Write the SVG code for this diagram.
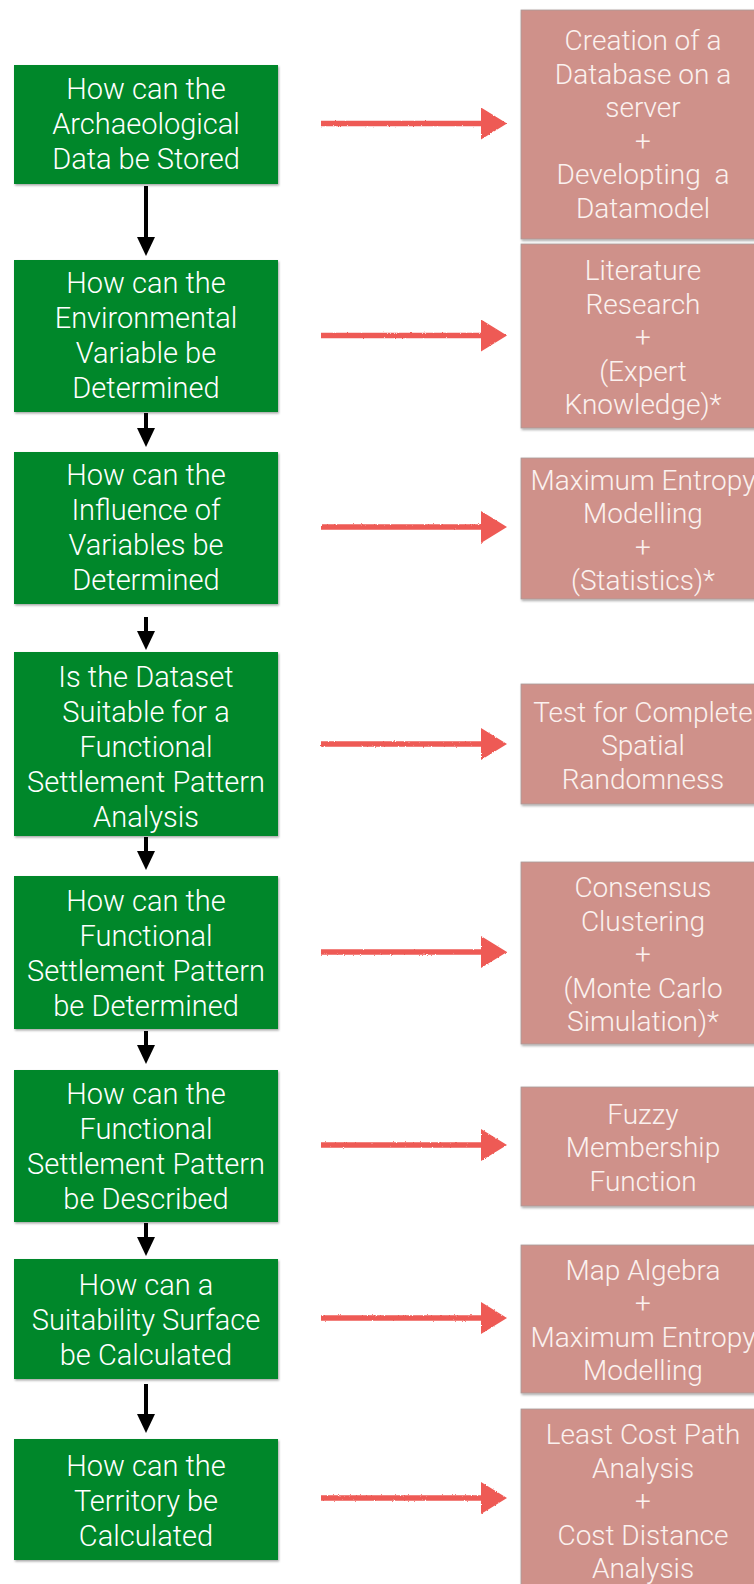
<svg xmlns="http://www.w3.org/2000/svg" width="754" height="1584" viewBox="0 0 754 1584">
  <style>
    .q rect { fill: #05872C; filter: url(#shadow); }
    .m rect { fill: #CF918A; stroke: #A89C99; stroke-width: 0.8; filter: url(#shadow); }
    .q text { font-family: Roboto, "Liberation Sans", sans-serif; font-weight: 300; font-size: 29px; fill: #FFFFFF; text-anchor: middle; }
    .m text { font-family: Roboto, "Liberation Sans", sans-serif; font-weight: 300; font-size: 28px; fill: #FBF1EF; text-anchor: middle; }
    .flow line { stroke: #000000; stroke-width: 4; marker-end: url(#head-black); }
    .method { filter: url(#chalk); }
    .method line { stroke: #EE5A55; stroke-width: 5.5; marker-end: url(#head-red); }
  </style>
  <defs>
    <filter id="shadow" x="-5%" y="-5%" width="115%" height="115%">
      <feDropShadow dx="1" dy="1.5" stdDeviation="1.2" flood-color="#000000" flood-opacity="0.35"/>
    </filter>
    <!-- rough, chalk-like edge for the red arrows -->
    <filter id="chalk" filterUnits="userSpaceOnUse" x="300" y="0" width="230" height="1584">
      <feTurbulence type="fractalNoise" baseFrequency="0.9" numOctaves="2" seed="3" result="noise"/>
      <feDisplacementMap in="SourceGraphic" in2="noise" scale="2.2" xChannelSelector="R" yChannelSelector="G"/>
    </filter>
    <marker id="head-black" markerUnits="userSpaceOnUse" markerWidth="19" markerHeight="18" refX="1" refY="9" orient="auto">
      <path d="M0,0 L19,9 L0,18 Z" fill="#000000"/>
    </marker>
    <marker id="head-red" markerUnits="userSpaceOnUse" markerWidth="26" markerHeight="32" refX="1" refY="16" orient="auto">
      <path d="M0,0 L26,16 L0,32 Z" fill="#EE5A55"/>
    </marker>
  </defs>

  <rect width="754" height="1584" fill="#FFFFFF"/>

  <!-- question boxes (left column) -->
  <g id="q1" class="q">
    <rect x="14" y="65" width="264" height="119"/>
    <text><tspan x="146" y="99">How can the</tspan><tspan x="146" y="134">Archaeological</tspan><tspan x="146" y="169">Data be Stored</tspan></text>
  </g>
  <g id="q2" class="q">
    <rect x="14" y="260" width="264" height="152"/>
    <text><tspan x="146" y="292.5">How can the</tspan><tspan x="146" y="327.5">Environmental</tspan><tspan x="146" y="362.5">Variable be</tspan><tspan x="146" y="397.5">Determined</tspan></text>
  </g>
  <g id="q3" class="q">
    <rect x="14" y="452" width="264" height="152"/>
    <text><tspan x="146" y="484.5">How can the</tspan><tspan x="146" y="519.5">Influence of</tspan><tspan x="146" y="554.5">Variables be</tspan><tspan x="146" y="589.5">Determined</tspan></text>
  </g>
  <g id="q4" class="q">
    <rect x="14" y="652" width="264" height="184"/>
    <text><tspan x="146" y="687">Is the Dataset</tspan><tspan x="146" y="722">Suitable for a</tspan><tspan x="146" y="757">Functional</tspan><tspan x="146" y="792">Settlement Pattern</tspan><tspan x="146" y="827">Analysis</tspan></text>
  </g>
  <g id="q5" class="q">
    <rect x="14" y="876" width="264" height="153"/>
    <text><tspan x="146" y="911">How can the</tspan><tspan x="146" y="946">Functional</tspan><tspan x="146" y="981">Settlement Pattern</tspan><tspan x="146" y="1016">be Determined</tspan></text>
  </g>
  <g id="q6" class="q">
    <rect x="14" y="1070" width="264" height="152"/>
    <text><tspan x="146" y="1104">How can the</tspan><tspan x="146" y="1139">Functional</tspan><tspan x="146" y="1174">Settlement Pattern</tspan><tspan x="146" y="1209">be Described</tspan></text>
  </g>
  <g id="q7" class="q">
    <rect x="14" y="1259" width="264" height="120"/>
    <text><tspan x="146" y="1295">How can a</tspan><tspan x="146" y="1330">Suitability Surface</tspan><tspan x="146" y="1365">be Calculated</tspan></text>
  </g>
  <g id="q8" class="q">
    <rect x="14" y="1439" width="264" height="121"/>
    <text><tspan x="146" y="1475.5">How can the</tspan><tspan x="146" y="1510.5">Territory be</tspan><tspan x="146" y="1545.5">Calculated</tspan></text>
  </g>

  <!-- method boxes (right column, running past the right edge) -->
  <g id="m1" class="m">
    <rect x="521" y="10" width="250" height="229"/>
    <text><tspan x="643" y="50">Creation of a</tspan><tspan x="643" y="83.5">Database on a</tspan><tspan x="643" y="117">server</tspan><tspan x="643" y="150.5">+</tspan><tspan x="643" y="184">Developting&#160; a</tspan><tspan x="643" y="217.5">Datamodel</tspan></text>
  </g>
  <g id="m2" class="m">
    <rect x="521" y="244" width="250" height="184"/>
    <text><tspan x="643" y="280">Literature</tspan><tspan x="643" y="313.5">Research</tspan><tspan x="643" y="347">+</tspan><tspan x="643" y="380.5">(Expert</tspan><tspan x="643" y="414">Knowledge)*</tspan></text>
  </g>
  <g id="m3" class="m">
    <rect x="521" y="458" width="250" height="141"/>
    <text><tspan x="643" y="489.75">Maximum Entropy</tspan><tspan x="643" y="523.25">Modelling</tspan><tspan x="643" y="556.75">+</tspan><tspan x="643" y="590.25">(Statistics)*</tspan></text>
  </g>
  <g id="m4" class="m">
    <rect x="521" y="684" width="250" height="120"/>
    <text><tspan x="643" y="721.5">Test for Complete</tspan><tspan x="643" y="755">Spatial</tspan><tspan x="643" y="788.5">Randomness</tspan></text>
  </g>
  <g id="m5" class="m">
    <rect x="521" y="862" width="250" height="182"/>
    <text><tspan x="643" y="897">Consensus</tspan><tspan x="643" y="930.5">Clustering</tspan><tspan x="643" y="964">+</tspan><tspan x="643" y="997.5">(Monte Carlo</tspan><tspan x="643" y="1031">Simulation)*</tspan></text>
  </g>
  <g id="m6" class="m">
    <rect x="521" y="1087" width="250" height="119"/>
    <text><tspan x="643" y="1123.5">Fuzzy</tspan><tspan x="643" y="1157">Membership</tspan><tspan x="643" y="1190.5">Function</tspan></text>
  </g>
  <g id="m7" class="m">
    <rect x="521" y="1245" width="250" height="148"/>
    <text><tspan x="643" y="1279.75">Map Algebra</tspan><tspan x="643" y="1313.25">+</tspan><tspan x="643" y="1346.75">Maximum Entropy</tspan><tspan x="643" y="1380.25">Modelling</tspan></text>
  </g>
  <g id="m8" class="m">
    <rect x="521" y="1409" width="250" height="200"/>
    <text><tspan x="643" y="1444">Least Cost Path</tspan><tspan x="643" y="1477.5">Analysis</tspan><tspan x="643" y="1511">+</tspan><tspan x="643" y="1544.5">Cost Distance</tspan><tspan x="643" y="1578">Analysis</tspan></text>
  </g>

  <!-- connectors -->
  <g id="connectors">
    <g class="flow">
      <line x1="146" y1="186" x2="146" y2="238"/>
      <line x1="146" y1="413" x2="146" y2="429"/>
      <line x1="146" y1="617" x2="146" y2="632"/>
      <line x1="146" y1="837" x2="146" y2="852"/>
      <line x1="146" y1="1031" x2="146" y2="1046"/>
      <line x1="146" y1="1223" x2="146" y2="1238"/>
      <line x1="146" y1="1384" x2="146" y2="1415"/>
    </g>
    <g class="method">
      <line x1="321" y1="123.5" x2="482" y2="123.5"/>
      <line x1="321" y1="335.5" x2="482" y2="335.5"/>
      <line x1="321" y1="527" x2="482" y2="527"/>
      <line x1="321" y1="744" x2="482" y2="744"/>
      <line x1="321" y1="952" x2="482" y2="952"/>
      <line x1="321" y1="1145" x2="482" y2="1145"/>
      <line x1="321" y1="1318" x2="482" y2="1318"/>
      <line x1="321" y1="1498" x2="482" y2="1498"/>
    </g>
  </g>
</svg>
